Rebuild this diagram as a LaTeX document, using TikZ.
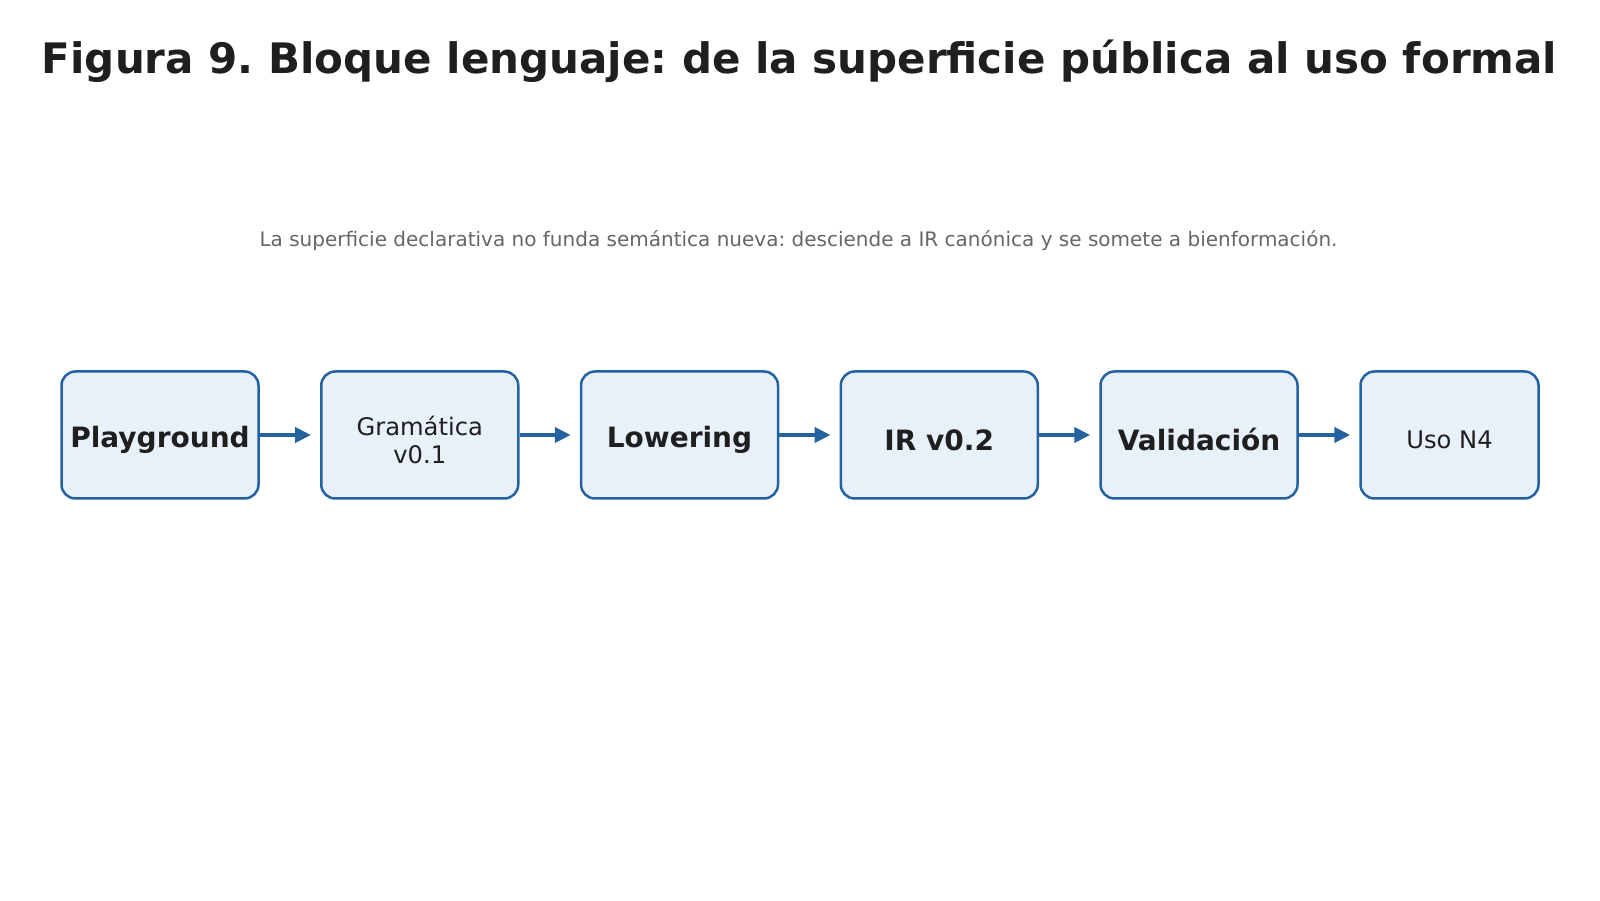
\documentclass[tikz,border=0pt]{standalone}
\usepackage{fontspec}
\setmainfont{DejaVu Sans}
\usetikzlibrary{arrows.meta}
\frenchspacing
\definecolor{boxline}{HTML}{2462A2}
\definecolor{boxfill}{HTML}{E8F0F9}
\definecolor{txt}{HTML}{1F1F1F}
\definecolor{subgray}{HTML}{666666}
\tikzset{
  stepbox/.style={draw=boxline, fill=boxfill, line width=2.5pt, rounded corners=14pt,
    minimum height=127pt, inner sep=0pt},
  boldlbl/.style={text=txt, inner sep=0pt, font=\fontsize{28}{32}\selectfont\bfseries},
  reglbl/.style={text=txt, inner sep=0pt, align=center, font=\fontsize{24.2}{27.5}\selectfont},
  arr/.style={draw=boxline, line width=4pt, -{Triangle[length=16pt,width=15pt]}, shorten >=9pt}
}
\begin{document}
\begin{tikzpicture}[x=1pt,y=1pt]
\useasboundingbox (0,0) rectangle (1600,900);
\node[text=txt, inner sep=0pt, anchor=base, font=\fontsize{42}{48}\selectfont\bfseries] (title) at (799.5,826.5) {Figura 9. Bloque lenguaje: de la superficie pública al uso formal};
\node[text=subgray, inner sep=0pt, anchor=base, font=\fontsize{20}{24}\selectfont] (sub) at (798.5,653) {La superficie declarativa no funda semántica nueva: desciende a IR canónica y se somete a bienformación.};

\node[stepbox, minimum width=197pt] (b1) at (160,465) {};
\node[stepbox, minimum width=197pt] (b2) at (419.75,465) {};
\node[stepbox, minimum width=197pt] (b3) at (679.5,465) {};
\node[stepbox, minimum width=197pt] (b4) at (939.25,465) {};
\node[stepbox, minimum width=197pt] (b5) at (1199,465) {};
\node[stepbox, minimum width=178pt] (b6) at (1449.5,465) {};

\node[boldlbl] (t1) at ([yshift=-5pt]b1.center) {Playground};
\node[reglbl] (t2) at ([yshift=-5pt]b2.center) {Gramática\\v0.1};
\node[boldlbl] (t3) at ([yshift=-5pt]b3.center) {Lowering};
\node[boldlbl] (t4) at ([yshift=-5pt]b4.center) {IR v0.2};
\node[boldlbl] (t5) at ([yshift=-5pt]b5.center) {Validación};
\node[reglbl] (t6) at ([yshift=-5pt]b6.center) {Uso N4};

\draw[arr] (b1.east) -- (b2.west);
\draw[arr] (b2.east) -- (b3.west);
\draw[arr] (b3.east) -- (b4.west);
\draw[arr] (b4.east) -- (b5.west);
\draw[arr] (b5.east) -- (b6.west);
\end{tikzpicture}
\end{document}
